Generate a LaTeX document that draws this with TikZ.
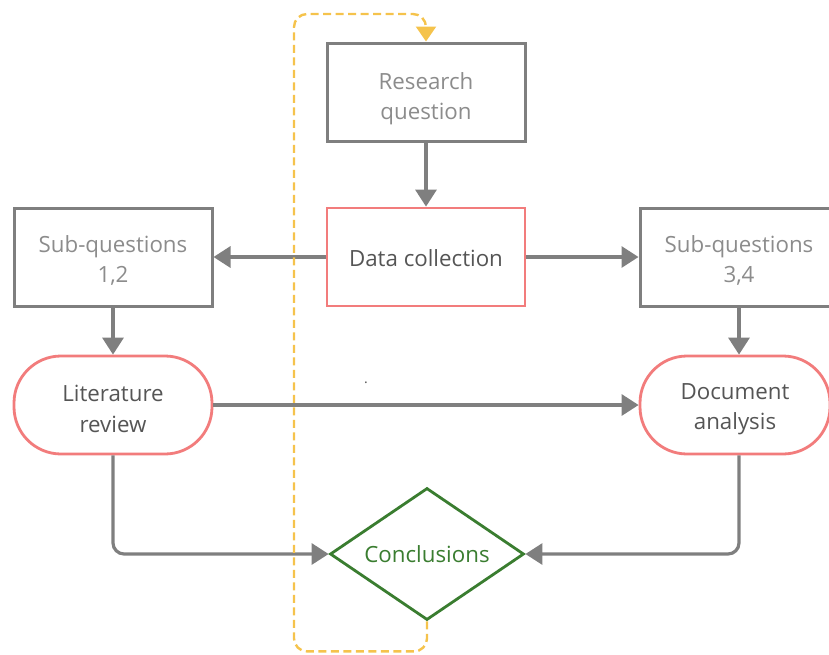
\documentclass[tikz,border=0pt]{standalone}
\usepackage{fontspec}
\setmainfont{Open Sans}
\usetikzlibrary{positioning, arrows.meta, shapes.geometric}

\definecolor{lineg}{HTML}{7F7F7F}
\definecolor{textg}{HTML}{8C8C8C}
\definecolor{textd}{HTML}{555555}
\definecolor{boxred}{HTML}{F27C7C}
\definecolor{concg}{HTML}{3A7D30}
\definecolor{loopy}{HTML}{F5C34C}

% extra room above the first line, pushes the text down
\newcommand{\lft}[1]{\rule{0pt}{#1}}

\begin{document}
\begin{tikzpicture}[
    x=1pt, y=-1pt,
    >={Triangle[length=17pt, width=21pt]},
    stepbox/.style={draw=lineg, line width=3pt, rectangle, minimum width=198pt, minimum height=98pt, align=center, font=\fontsize{22.3}{30.5}\selectfont, text=textg, fill=white},
    redbox/.style={draw=boxred, line width=2.8pt, rectangle, minimum width=198pt, minimum height=98pt, align=center, font=\fontsize{22.3}{30.5}\selectfont, text=textd, fill=white},
    pillbox/.style={redbox, rounded corners=47pt},
    decbox/.style={draw=concg, line width=2.8pt, diamond, aspect=1.47, minimum width=194pt, minimum height=132pt, inner sep=0pt, font=\fontsize{22.3}{30.5}\selectfont, text=concg, fill=white},
    mainarrow/.style={->, line width=3.2pt, lineg, rounded corners=11pt},
    looparrow/.style={->, >={Triangle[length=15pt, width=20pt]}, line width=2.4pt, loopy, dash pattern=on 8pt off 4.5pt, rounded corners=13pt}
]

\useasboundingbox (0,0) rectangle (829,654);

% Top and centre
\node[stepbox] (rq) at (426, 92) {\lft{30pt}Research\\question};
\node[redbox] (dc) at (426, 257) {\lft{20pt}Data collection};
\draw[mainarrow] (rq.south) -- (dc.north);

% Sub-questions
\node[stepbox] (sq12) at (113, 257) {\lft{24pt}Sub-questions\\1,2};
\node[stepbox] (sq34) at (739, 257) {\lft{24pt}Sub-questions\\3,4};
\draw[mainarrow] (dc.west) -- (sq12.east);
\draw[mainarrow] (dc.east) -- (sq34.west);

% Methods
\node[pillbox] (lit) at (113, 405) {\lft{24pt}Literature\\review};
\node[pillbox, minimum width=190pt] (doc) at (735, 405) {\lft{24pt}Document\\analysis};
\draw[mainarrow] (sq12.south) -- (lit.north);
\draw[mainarrow] (sq34.south) -- (sq34.south |- doc.north);
\draw[mainarrow] (lit.east) -- (doc.west);
\node[text=textd, font=\fontsize{14}{16}\selectfont] (dot) at (366, 383) {.};

% Conclusions
\node[decbox] (conc) at (427, 554) {Conclusions};
\draw[mainarrow] (lit.south) |- (conc.west);
\draw[mainarrow] (sq34.south |- doc.south) |- (conc.east);

% Feedback loop
\draw[looparrow] (conc.south) -- ++(0, 30) -| (294, 14) -| (rq.north);

\end{tikzpicture}
\end{document}
